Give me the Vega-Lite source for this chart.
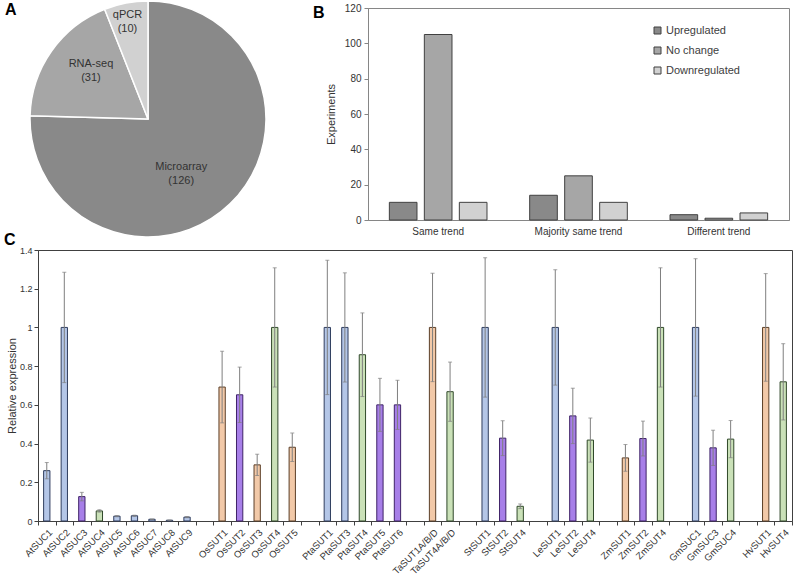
{
  "$schema": "https://vega.github.io/schema/vega-lite/v6.json",
  "padding": {"left": 3, "top": -2, "right": 0, "bottom": 0},
  "spacing": -9,
  "resolve": {"scale": {"fill": "independent", "stroke": "independent", "color": "independent", "x": "independent", "y": "independent", "theta": "independent", "xOffset": "independent"}, "legend": {"fill": "independent", "stroke": "independent", "color": "independent"}},
  "config": {
    "font": "Liberation Sans",
    "axis": {"labelFont": "Liberation Sans", "titleFont": "Liberation Sans", "labelColor": "#404040", "titleColor": "#404040", "titleFontWeight": "normal", "grid": false, "domainColor": "#868686", "tickColor": "#868686"},
    "title": {"font": "Liberation Sans", "fontSize": 16, "fontWeight": "bold", "color": "#000000", "anchor": "start"},
    "legend": {"labelFont": "Liberation Sans"}
  },
  "vconcat": [
    {
      "hconcat": [
        {
          "width": 220,
          "height": 222,
          "view": {"stroke": null},
          "title": {"text": "A", "frame": "group", "offset": -20, "dx": -33},
          "data": {"values": [
            {"method": "Microarray", "count": 126, "label": "Microarray\n(126)"},
            {"method": "RNA-seq", "count": 31, "label": "RNA-seq\n(31)"},
            {"method": "qPCR", "count": 10, "label": "qPCR\n(10)"}
          ]},
          "encoding": {
            "theta": {"field": "count", "type": "quantitative", "stack": true}
          },
          "layer": [
            {
              "mark": {"type": "arc", "radius": 118, "stroke": "#ffffff", "strokeWidth": 1.5},
              "encoding": {
                "color": {"field": "method", "type": "nominal", "scale": {"domain": ["Microarray", "RNA-seq", "qPCR"], "range": ["#898989", "#a6a6a6", "#d1d1d1"]}, "legend": null}
              }
            },
            {
              "mark": {"type": "text", "radius": 62, "dx": -10, "dy": 4, "lineBreak": "\n", "fontSize": 11, "lineHeight": 14, "fill": "#333333", "font": "Liberation Sans"},
              "encoding": {
                "detail": {"field": "method", "type": "nominal"},
                "text": {"condition": {"test": "datum.method === 'Microarray'", "field": "label"}, "value": ""}
              }
            },
            {
              "mark": {"type": "text", "radius": 77, "dx": 6, "dy": -11, "lineBreak": "\n", "fontSize": 11, "lineHeight": 14, "fill": "#333333", "font": "Liberation Sans"},
              "encoding": {
                "detail": {"field": "method", "type": "nominal"},
                "text": {"condition": {"test": "datum.method === 'RNA-seq'", "field": "label"}, "value": ""}
              }
            },
            {
              "mark": {"type": "text", "radius": 99, "dx": -2, "dy": -7, "lineBreak": "\n", "fontSize": 11, "lineHeight": 14, "fill": "#333333", "font": "Liberation Sans"},
              "encoding": {
                "detail": {"field": "method", "type": "nominal"},
                "text": {"condition": {"test": "datum.method === 'qPCR'", "field": "label"}, "value": ""}
              }
            }
          ]
        },
        {
          "width": 421,
          "height": 212,
          "view": {"stroke": "#868686"},
          "title": {"text": "B", "frame": "group", "offset": -18, "dx": -55},
          "data": {"values": [
            {"trend": "Same trend", "response": "Upregulated", "n": 10},
            {"trend": "Same trend", "response": "No change", "n": 105},
            {"trend": "Same trend", "response": "Downregulated", "n": 10},
            {"trend": "Majority same trend", "response": "Upregulated", "n": 14},
            {"trend": "Majority same trend", "response": "No change", "n": 25},
            {"trend": "Majority same trend", "response": "Downregulated", "n": 10},
            {"trend": "Different trend", "response": "Upregulated", "n": 3},
            {"trend": "Different trend", "response": "No change", "n": 1},
            {"trend": "Different trend", "response": "Downregulated", "n": 4}
          ]},
          "mark": {"type": "bar", "stroke": "#404040", "strokeWidth": 1},
          "encoding": {
            "x": {"field": "trend", "type": "nominal", "sort": ["Same trend", "Majority same trend", "Different trend"], "scale": {"paddingInner": 0, "paddingOuter": 0}, "axis": {"title": null, "labelAngle": 0, "ticks": false, "labelFontSize": 10, "labelPadding": 6, "labelColor": "#333333"}},
            "xOffset": {"field": "response", "type": "nominal", "sort": ["Upregulated", "No change", "Downregulated"], "scale": {"paddingInner": 0.21, "paddingOuter": 0.61}},
            "y": {"field": "n", "type": "quantitative", "scale": {"domain": [0, 120]}, "axis": {"title": "Experiments", "values": [0, 20, 40, 60, 80, 100, 120], "tickSize": 4, "labelPadding": 3, "labelFontSize": 10, "titleFontSize": 11, "titlePadding": 8, "labelColor": "#333333", "titleColor": "#333333"}},
            "fill": {"field": "response", "type": "nominal", "sort": ["Upregulated", "No change", "Downregulated"], "scale": {"domain": ["Upregulated", "No change", "Downregulated"], "range": ["#898989", "#a6a6a6", "#d1d1d1"]}, "legend": {"title": null, "orient": "none", "legendX": 284, "legendY": 17, "symbolType": "square", "symbolSize": 49, "symbolStrokeColor": "#404040", "symbolStrokeWidth": 1, "labelFontSize": 11, "labelColor": "#404040", "rowPadding": 8, "labelOffset": 3, "padding": 0}}
          }
        }
      ],
      "spacing": 110,
      "bounds": "flush",
      "resolve": {"scale": {"fill": "independent", "color": "independent", "x": "independent", "y": "independent", "theta": "independent"}, "legend": {"fill": "independent", "color": "independent"}}
    },
    {
      "width": 754,
      "height": 271,
      "view": {"stroke": "#404040"},
      "title": {"text": "C", "frame": "group", "offset": -2, "dx": -34},
      "data": {"values": [
        {"gene": "AtSUC1", "value": 0.26, "err": 0.042, "clade": "I"},
        {"gene": "AtSUC2", "value": 1.0, "err": 0.285, "clade": "I"},
        {"gene": "AtSUC3", "value": 0.126, "err": 0.022, "clade": "III"},
        {"gene": "AtSUC4", "value": 0.052, "err": 0.006, "clade": "IV"},
        {"gene": "AtSUC5", "value": 0.025, "err": 0.003, "clade": "I"},
        {"gene": "AtSUC6", "value": 0.027, "err": 0.003, "clade": "I"},
        {"gene": "AtSUC7", "value": 0.009, "err": 0.001, "clade": "I"},
        {"gene": "AtSUC8", "value": 0.004, "err": 0.001, "clade": "I"},
        {"gene": "AtSUC9", "value": 0.02, "err": 0.003, "clade": "I"},
        {"gene": "OsSUT1", "value": 0.692, "err": 0.185, "clade": "II"},
        {"gene": "OsSUT2", "value": 0.652, "err": 0.143, "clade": "III"},
        {"gene": "OsSUT3", "value": 0.29, "err": 0.055, "clade": "II"},
        {"gene": "OsSUT4", "value": 1.0, "err": 0.308, "clade": "IV"},
        {"gene": "OsSUT5", "value": 0.381, "err": 0.073, "clade": "II"},
        {"gene": "PtaSUT1", "value": 1.0, "err": 0.347, "clade": "I"},
        {"gene": "PtaSUT3", "value": 1.0, "err": 0.282, "clade": "I"},
        {"gene": "PtaSUT4", "value": 0.859, "err": 0.216, "clade": "IV"},
        {"gene": "PtaSUT5", "value": 0.6, "err": 0.137, "clade": "III"},
        {"gene": "PtaSUT6", "value": 0.6, "err": 0.127, "clade": "III"},
        {"gene": "TaSUT1A/B/D", "value": 1.0, "err": 0.28, "clade": "II"},
        {"gene": "TaSUT4A/B/D", "value": 0.668, "err": 0.153, "clade": "IV"},
        {"gene": "StSUT1", "value": 1.0, "err": 0.36, "clade": "I"},
        {"gene": "StSUT2", "value": 0.428, "err": 0.09, "clade": "III"},
        {"gene": "StSUT4", "value": 0.076, "err": 0.012, "clade": "IV"},
        {"gene": "LeSUT1", "value": 1.0, "err": 0.298, "clade": "I"},
        {"gene": "LeSUT2", "value": 0.543, "err": 0.143, "clade": "III"},
        {"gene": "LeSUT4", "value": 0.418, "err": 0.114, "clade": "IV"},
        {"gene": "ZmSUT1", "value": 0.326, "err": 0.069, "clade": "II"},
        {"gene": "ZmSUT2", "value": 0.426, "err": 0.09, "clade": "III"},
        {"gene": "ZmSUT4", "value": 1.0, "err": 0.308, "clade": "IV"},
        {"gene": "GmSUC1", "value": 1.0, "err": 0.355, "clade": "I"},
        {"gene": "GmSUC3", "value": 0.378, "err": 0.091, "clade": "III"},
        {"gene": "GmSUC4", "value": 0.423, "err": 0.096, "clade": "IV"},
        {"gene": "HvSUT1", "value": 1.0, "err": 0.278, "clade": "II"},
        {"gene": "HvSUT4", "value": 0.719, "err": 0.197, "clade": "IV"}
      ]},
      "encoding": {
        "x": {"field": "gene", "type": "nominal", "sort": null,
          "scale": {"domain": ["AtSUC1", "AtSUC2", "AtSUC3", "AtSUC4", "AtSUC5", "AtSUC6", "AtSUC7", "AtSUC8", "AtSUC9", "gap1", "OsSUT1", "OsSUT2", "OsSUT3", "OsSUT4", "OsSUT5", "gap2", "PtaSUT1", "PtaSUT3", "PtaSUT4", "PtaSUT5", "PtaSUT6", "gap3", "TaSUT1A/B/D", "TaSUT4A/B/D", "gap4", "StSUT1", "StSUT2", "StSUT4", "gap5", "LeSUT1", "LeSUT2", "LeSUT4", "gap6", "ZmSUT1", "ZmSUT2", "ZmSUT4", "gap7", "GmSUC1", "GmSUC3", "GmSUC4", "gap8", "HvSUT1", "HvSUT4"], "paddingInner": 0, "paddingOuter": 0},
          "axis": {"title": null, "labelAngle": -45, "labelFontSize": 9.5, "labelColor": "#333333", "tickBand": "extent", "tickSize": 4, "labelPadding": 2, "domainColor": "#404040", "tickColor": "#404040", "labelExpr": "indexof(datum.label, 'gap') === 0 ? '' : datum.label"}},
        "y": {"field": "value", "type": "quantitative", "scale": {"domain": [0, 1.4]},
          "axis": {"title": "Relative expression", "values": [0, 0.2, 0.4, 0.6, 0.8, 1, 1.2, 1.4], "format": "~g", "tickSize": 4, "labelPadding": 2, "labelFontSize": 9, "titleFontSize": 11, "titlePadding": 2, "domainColor": "#404040", "tickColor": "#404040", "labelColor": "#333333", "titleColor": "#333333"}}
      },
      "resolve": {"scale": {"fill": "independent", "stroke": "independent"}},
      "layer": [
        {
          "mark": {"type": "bar", "width": {"band": 0.36}, "strokeWidth": 1},
          "encoding": {
            "fill": {"field": "clade", "type": "nominal", "scale": {"domain": ["I", "II", "III", "IV"], "range": ["#b4c6e7", "#f2c9a8", "#a77fe8", "#cae1b8"]}, "legend": null},
            "stroke": {"field": "clade", "type": "nominal", "scale": {"domain": ["I", "II", "III", "IV"], "range": ["#2f3d5e", "#5c3f27", "#3f2368", "#30492a"]}, "legend": null}
          }
        },
        {
          "mark": {"type": "errorbar", "color": "#7f7f7f", "thickness": 1, "ticks": {"size": 4, "color": "#7f7f7f"}},
          "encoding": {
            "yError": {"field": "err"}
          }
        }
      ]
    }
  ]
}
